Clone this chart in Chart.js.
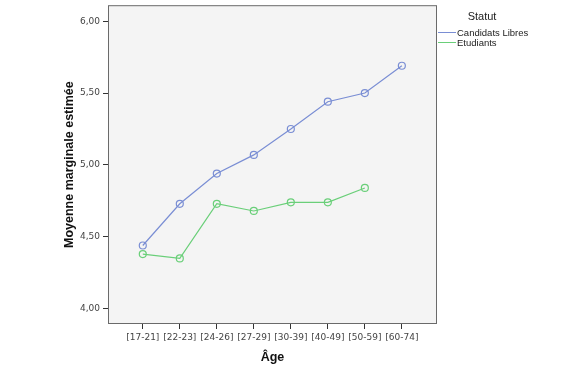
<!DOCTYPE html>
<html>
<head>
<meta charset="utf-8">
<script src="https://cdn.jsdelivr.net/npm/chart.js@4"></script>
<style>
  body { margin: 0; background: #fff; }
  #wrap { width: 580px; height: 365px; }
</style>
</head>
<body>
<div id="wrap"><canvas id="meansChart" width="580" height="365"></canvas></div>
<script>
const ageLabels = ["[17-21]", "[22-23]", "[24-26]", "[27-29]", "[30-39]", "[40-49]", "[50-59]", "[60-74]"];
const candidatsLibres = [4.44, 4.73, 4.94, 5.07, 5.25, 5.44, 5.50, 5.69];
const etudiants = [4.38, 4.35, 4.73, 4.68, 4.74, 4.74, 4.84, null];
const yTicks = [4.0, 4.5, 5.0, 5.5, 6.0];

const toPoints = values => ageLabels.map((_, i) => ({ x: i, y: values[i] }));

// grey plot box with a frame, like the SPSS output
const plotBox = {
    id: "plotBox",
    beforeDraw(chart) {
        const { ctx, chartArea: a } = chart;
        ctx.save();
        ctx.fillStyle = "#f4f4f4";
        ctx.fillRect(a.left, a.top, a.right - a.left, a.bottom - a.top);
        ctx.restore();
    },
    afterDraw(chart) {
        const { ctx, chartArea: a } = chart;
        ctx.save();
        ctx.strokeStyle = "#6a6a6a";
        ctx.lineWidth = 1;
        ctx.strokeRect(a.left + 0.5, a.top + 0.5, a.right - a.left - 1, a.bottom - a.top - 1);
        ctx.restore();
    }
};

// legend drawn to the right of the box
const sideLegend = {
    id: "sideLegend",
    afterDraw(chart) {
        const ctx = chart.ctx;
        const x0 = chart.chartArea.right + 1;
        ctx.save();
        ctx.fillStyle = "#222";
        ctx.font = "11px 'Liberation Sans'";
        ctx.textAlign = "center";
        ctx.textBaseline = "middle";
        ctx.fillText("Statut", 482, 17);
        ctx.font = "9.5px 'Liberation Sans'";
        ctx.textAlign = "left";
        chart.data.datasets.forEach((ds, i) => {
            const y = 32 + i * 10;
            ctx.strokeStyle = ds.borderColor;
            ctx.lineWidth = 1;
            ctx.beginPath();
            ctx.moveTo(x0, y + 0.5);
            ctx.lineTo(456, y + 0.5);
            ctx.stroke();
            ctx.fillText(ds.label, 457, y + 1);
        });
        ctx.restore();
    }
};

new Chart(document.getElementById("meansChart").getContext("2d"), {
    type: "line",
    data: {
        datasets: [
            {
                label: "Candidats Libres",
                data: toPoints(candidatsLibres),
                borderColor: "#7a8ed4",
                backgroundColor: "transparent",
                borderWidth: 1.2,
                pointRadius: 3.5,
                pointBorderWidth: 1.2,
                pointBackgroundColor: "transparent",
                tension: 0
            },
            {
                label: "Etudiants",
                data: toPoints(etudiants),
                borderColor: "#6acf79",
                backgroundColor: "transparent",
                borderWidth: 1.2,
                pointRadius: 3.5,
                pointBorderWidth: 1.2,
                pointBackgroundColor: "transparent",
                tension: 0
            }
        ]
    },
    options: {
        responsive: false,
        animation: false,
        layout: { padding: { left: 0, top: 5, right: 143, bottom: 0 } },
        plugins: {
            legend: { display: false },
            tooltip: { enabled: false }
        },
        scales: {
            x: {
                type: "linear",
                min: -0.94,
                max: 7.95,
                afterBuildTicks: scale => {
                    scale.ticks = ageLabels.map((_, i) => ({ value: i }));
                },
                afterFit: scale => {
                    scale.height = 41;
                    scale.paddingLeft = 0;
                    scale.paddingRight = 0;
                },
                border: { display: false },
                grid: { drawOnChartArea: false, drawTicks: true, tickLength: 5, color: "#333" },
                ticks: {
                    padding: 3,
                    color: "#444",
                    font: { family: "DejaVu Sans", size: 9 },
                    maxRotation: 0,
                    autoSkip: false,
                    callback: v => ageLabels[v]
                },
                title: {
                    display: true,
                    text: "Âge",
                    color: "#111",
                    padding: { top: 0, bottom: 0 },
                    font: { family: "Liberation Sans", size: 12.5, weight: "bold" }
                }
            },
            y: {
                min: 3.894,
                max: 6.111,
                afterBuildTicks: scale => {
                    scale.ticks = yTicks.map(v => ({ value: v }));
                },
                afterFit: scale => {
                    scale.width = 108;
                    scale.paddingTop = 0;
                    scale.paddingBottom = 0;
                },
                border: { display: false },
                grid: { drawOnChartArea: false, drawTicks: true, tickLength: 5, color: "#333" },
                ticks: {
                    padding: 3,
                    color: "#444",
                    font: { family: "DejaVu Sans", size: 9 },
                    callback: v => v.toFixed(2).replace(".", ",")
                },
                title: {
                    display: true,
                    text: "Moyenne marginale estimée",
                    color: "#111",
                    padding: { top: 62, bottom: 0 },
                    font: { family: "Liberation Sans", size: 12.5, weight: "bold" }
                }
            }
        }
    },
    plugins: [plotBox, sideLegend]
});
</script>
</body>
</html>
